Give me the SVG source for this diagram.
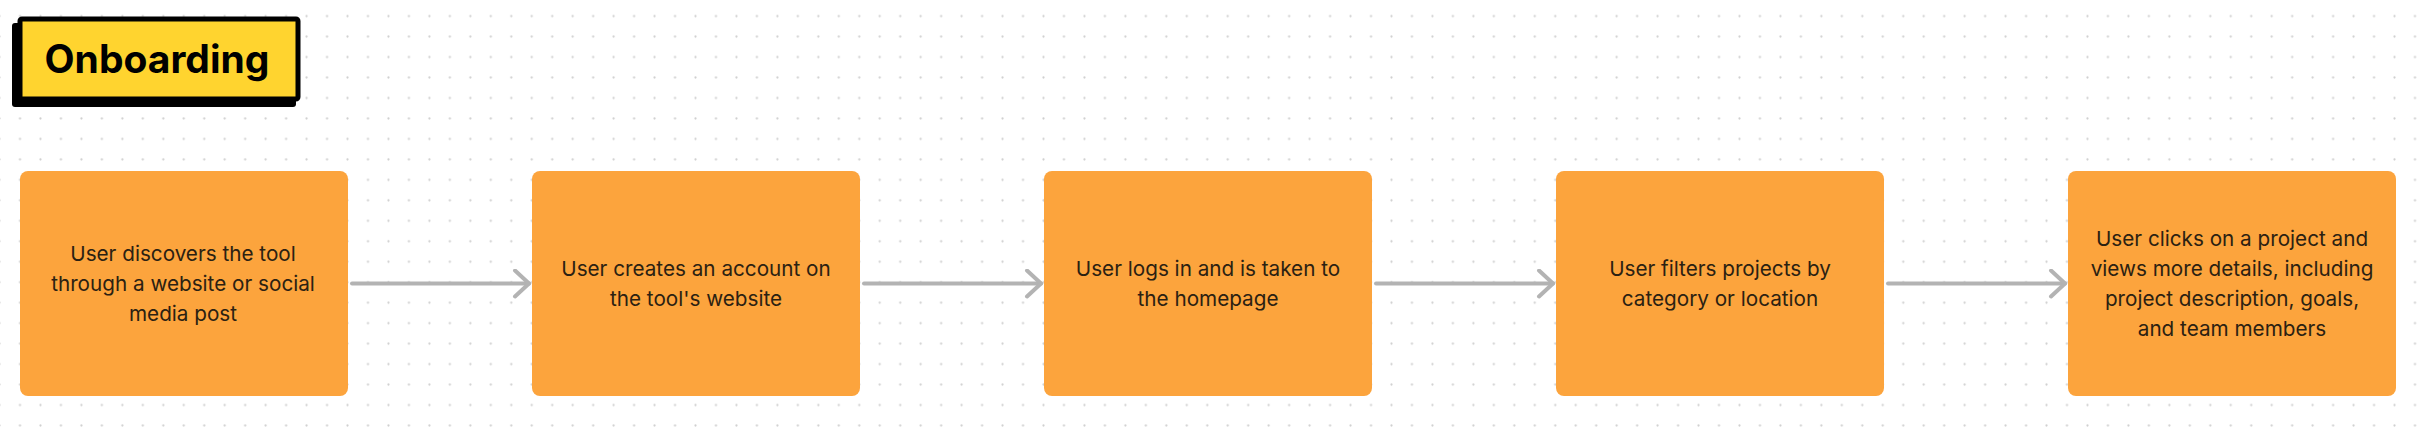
<svg xmlns="http://www.w3.org/2000/svg" width="2432" height="428" viewBox="0 0 2432 428">
<defs>
<pattern id="dots" patternUnits="userSpaceOnUse" x="9.77" y="5.9" width="20.47" height="20.47">
<circle cx="10.235" cy="10.235" r="1.1" fill="#cfcfcf"/>
</pattern>
<marker id="chev" viewBox="0 0 20 30" refX="17" refY="15" markerWidth="20" markerHeight="30" markerUnits="userSpaceOnUse" orient="auto">
<path d="M3 2 L17 15 L3 28" fill="none" stroke="#b3b3b3" stroke-width="4" stroke-linecap="round" stroke-linejoin="round"/>
</marker>
<style>
.node rect{fill:#fca43d;}
.node text{font-family:Inter,"Noto Sans","Liberation Sans",sans-serif;font-size:20.7px;fill:#2b2112;text-anchor:middle;}
.conn line{stroke:#b3b3b3;stroke-width:4;stroke-linecap:round;marker-end:url(#chev);}
.title text{font-family:Inter,"Liberation Sans",sans-serif;font-size:39px;font-weight:700;fill:#000;text-anchor:middle;}
</style>
</defs>
<rect width="2432" height="428" fill="#ffffff"/>
<rect width="2432" height="428" fill="url(#dots)"/>
<g id="title" class="title">
<rect x="12" y="23" width="284" height="84" rx="3" fill="#000"/>
<rect x="20" y="19" width="278" height="80" rx="2" fill="#ffd42f" stroke="#000" stroke-width="5"/>
<text x="157" y="73">Onboarding</text>
</g>
<g id="connectors" class="conn">
<line x1="352" y1="283.5" x2="529" y2="283.5"/>
<line x1="864" y1="283.5" x2="1041" y2="283.5"/>
<line x1="1376" y1="283.5" x2="1553" y2="283.5"/>
<line x1="1888" y1="283.5" x2="2065" y2="283.5"/>
</g>
<g id="node1" class="node">
<rect x="20" y="171" width="328" height="225" rx="8"/>
<text x="183" y="260.5">User discovers the tool</text>
<text x="183" y="290.5">through a website or social</text>
<text x="183" y="320.5">media post</text>
</g>
<g id="node2" class="node">
<rect x="532" y="171" width="328" height="225" rx="8"/>
<text x="696" y="275.5">User creates an account on</text>
<text x="696" y="305.5">the tool's website</text>
</g>
<g id="node3" class="node">
<rect x="1044" y="171" width="328" height="225" rx="8"/>
<text x="1208" y="275.5">User logs in and is taken to</text>
<text x="1208" y="305.5">the homepage</text>
</g>
<g id="node4" class="node">
<rect x="1556" y="171" width="328" height="225" rx="8"/>
<text x="1720" y="275.5">User filters projects by</text>
<text x="1720" y="305.5">category or location</text>
</g>
<g id="node5" class="node">
<rect x="2068" y="171" width="328" height="225" rx="8"/>
<text x="2232" y="245.5">User clicks on a project and</text>
<text x="2232" y="275.5">views more details, including</text>
<text x="2232" y="305.5">project description, goals,</text>
<text x="2232" y="335.5">and team members</text>
</g>
</svg>
